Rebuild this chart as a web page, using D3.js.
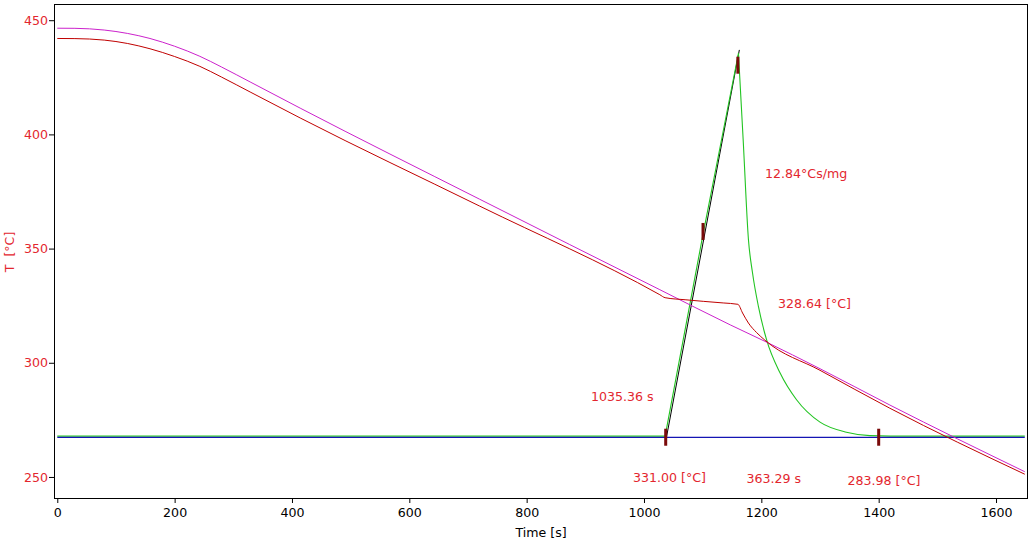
<!DOCTYPE html>
<html>
<head>
<meta charset="utf-8">
<script src="https://cdn.jsdelivr.net/npm/d3@7"></script>
<style>
  html, body { margin: 0; padding: 0; background: #fff; }
  svg { display: block; font-family: "DejaVu Sans", sans-serif; }
</style>
</head>
<body>
<svg id="chart" width="1032" height="544"></svg>
<script>
// ---- data ----
const xTicks = [0, 200, 400, 600, 800, 1000, 1200, 1400, 1600];
const yTicks = [250, 300, 350, 400, 450];

const progTime = [0, 30, 80, 120, 158, 200, 243, 280, 330, 414, 720, 1027, 1147, 1206, 1300, 1419, 1649];
const progTemp = [446.5, 446.45, 445.7, 444.2, 442.0, 438.6, 434.2, 429.5, 422.8, 411.5, 371.6, 332.0, 316.6, 309.4, 297.4, 281.5, 252.3];

const sampleTime = [0, 30, 80, 120, 158, 200, 243, 280, 330, 414, 720, 1027, 1036, 1070, 1101, 1135, 1160, 1168, 1178, 1192, 1206, 1300, 1419, 1649];
const sampleTemp = [442.0, 441.95, 441.3, 439.8, 437.5, 434.1, 429.8, 425.1, 418.4, 407.2, 368.6, 329.8, 328.5, 327.6, 326.9, 326.2, 325.6, 321.8, 317.4, 313.2, 309.9, 296.7, 280.1, 251.2];

// DSC signal: rising edge (straight) then decay
const riseTime = [0, 1036, 1100, 1161];
const riseTemp = [267.9, 267.9, 355.5, 435.5];
const decayTime = [1161, 1169, 1178, 1185, 1195, 1209, 1232, 1260, 1300, 1345, 1385, 1420, 1649];
const decayTemp = [435.5, 397.8, 354.0, 339.3, 324.7, 310.0, 295.5, 283.8, 274.0, 269.6, 268.1, 267.9, 267.9];

const baseTime = [0, 1649];
const baseTemp = [267.3, 267.3];

const tangentTime = [1037, 1161.5];
const tangentTemp = [267.0, 437.0];

const markerTime = [1037, 1100.6, 1160, 1400];
const markerTemp = [267.4, 357.5, 430.3, 267.4];

const labels = ["12.84°Cs/mg", "328.64 [°C]", "1035.36 s", "331.00 [°C]", "363.29 s", "283.98 [°C]"];

// ---- layout ----
const L = 54, R = 1028, T = 4, B = 499;
const red = "#e3262e";
const svg = d3.select("#chart");

const x = d3.scaleLinear().domain([-5.6, 1654.5]).range([L, R]);
const y = d3.scaleLinear().domain([240.35, 457.1]).range([B, T]);

// axes
const xAxis = d3.axisBottom(x).tickValues(xTicks).tickSize(4).tickPadding(5).tickFormat(d3.format("d"));
const yAxis = d3.axisLeft(y).tickValues(yTicks).tickSize(5).tickPadding(1).tickFormat(d3.format("d"));

const gx = svg.append("g").attr("transform", `translate(0,${B})`).call(xAxis);
gx.select(".domain").remove();
gx.selectAll("text").attr("fill", "#000").style("font-size", "12.6px").style("font-family", "DejaVu Sans");
gx.selectAll("line").attr("stroke", "#000");

const gy = svg.append("g").attr("transform", `translate(${L},0)`).call(yAxis);
gy.select(".domain").remove();
gy.selectAll("text").attr("fill", red).style("font-size", "12.6px").style("font-family", "DejaVu Sans");
gy.selectAll("line").attr("stroke", "#000");

// clip
svg.append("clipPath").attr("id", "clip").append("rect")
  .attr("x", L).attr("y", T).attr("width", R - L).attr("height", B - T);
const plot = svg.append("g").attr("clip-path", "url(#clip)");

const line = d3.line().x(d => x(d[0])).y(d => y(d[1]));
const smooth = d3.line().x(d => x(d[0])).y(d => y(d[1])).curve(d3.curveMonotoneX);
const zip = (a, b) => a.map((v, i) => [v, b[i]]);

plot.append("path").datum(zip(tangentTime, tangentTemp)).attr("d", line)
  .attr("fill", "none").attr("stroke", "#000").attr("stroke-width", 1)
  .attr("transform", "translate(0.6,0)");
plot.append("path").datum(zip(riseTime, riseTemp)).attr("d", line)
  .attr("fill", "none").attr("stroke", "#22c422").attr("stroke-width", 1.1);
plot.append("path").datum(zip(decayTime, decayTemp)).attr("d", smooth)
  .attr("fill", "none").attr("stroke", "#22c422").attr("stroke-width", 1.1);
plot.append("path").datum(zip(baseTime, baseTemp)).attr("d", line)
  .attr("fill", "none").attr("stroke", "#1414b4").attr("stroke-width", 1.2);
plot.append("path").datum(zip(progTime, progTemp)).attr("d", smooth)
  .attr("fill", "none").attr("stroke", "#cc22cc").attr("stroke-width", 1);
plot.append("path").datum(zip(sampleTime, sampleTemp)).attr("d", smooth)
  .attr("fill", "none").attr("stroke", "#c00000").attr("stroke-width", 1);

// markers
plot.selectAll("rect.mk").data(zip(markerTime, markerTemp)).enter().append("rect")
  .attr("class", "mk")
  .attr("x", d => x(d[0]) - 1.5).attr("y", d => y(d[1]) - 8.5)
  .attr("width", 3).attr("height", 17)
  .attr("fill", "#7a0a0a");

// frame
svg.append("rect").attr("x", L + 0.5).attr("y", T + 0.5)
  .attr("width", R - L - 1).attr("height", B - T - 1)
  .attr("fill", "none").attr("stroke", "#000").attr("stroke-width", 1);

// annotations
const labelPos = [[765, 177.5], [778, 308], [591, 400.5], [633, 482], [746.5, 483], [847.5, 484.5]];
svg.selectAll("text.ann").data(labels).enter().append("text")
  .attr("class", "ann")
  .attr("x", (d, i) => labelPos[i][0]).attr("y", (d, i) => labelPos[i][1])
  .attr("fill", red).style("font-size", "12.6px")
  .text(d => d);

// axis titles
svg.append("text").attr("x", 541).attr("y", 536.5).attr("text-anchor", "middle")
  .attr("fill", "#000").style("font-size", "12.6px").text("Time [s]");
svg.append("text").attr("transform", "translate(14,252) rotate(-90)").attr("text-anchor", "middle")
  .attr("fill", red).style("font-size", "12.6px").style("white-space", "pre")
  .attr("xml:space", "preserve").text("T  [°C]");
</script>
</body>
</html>
